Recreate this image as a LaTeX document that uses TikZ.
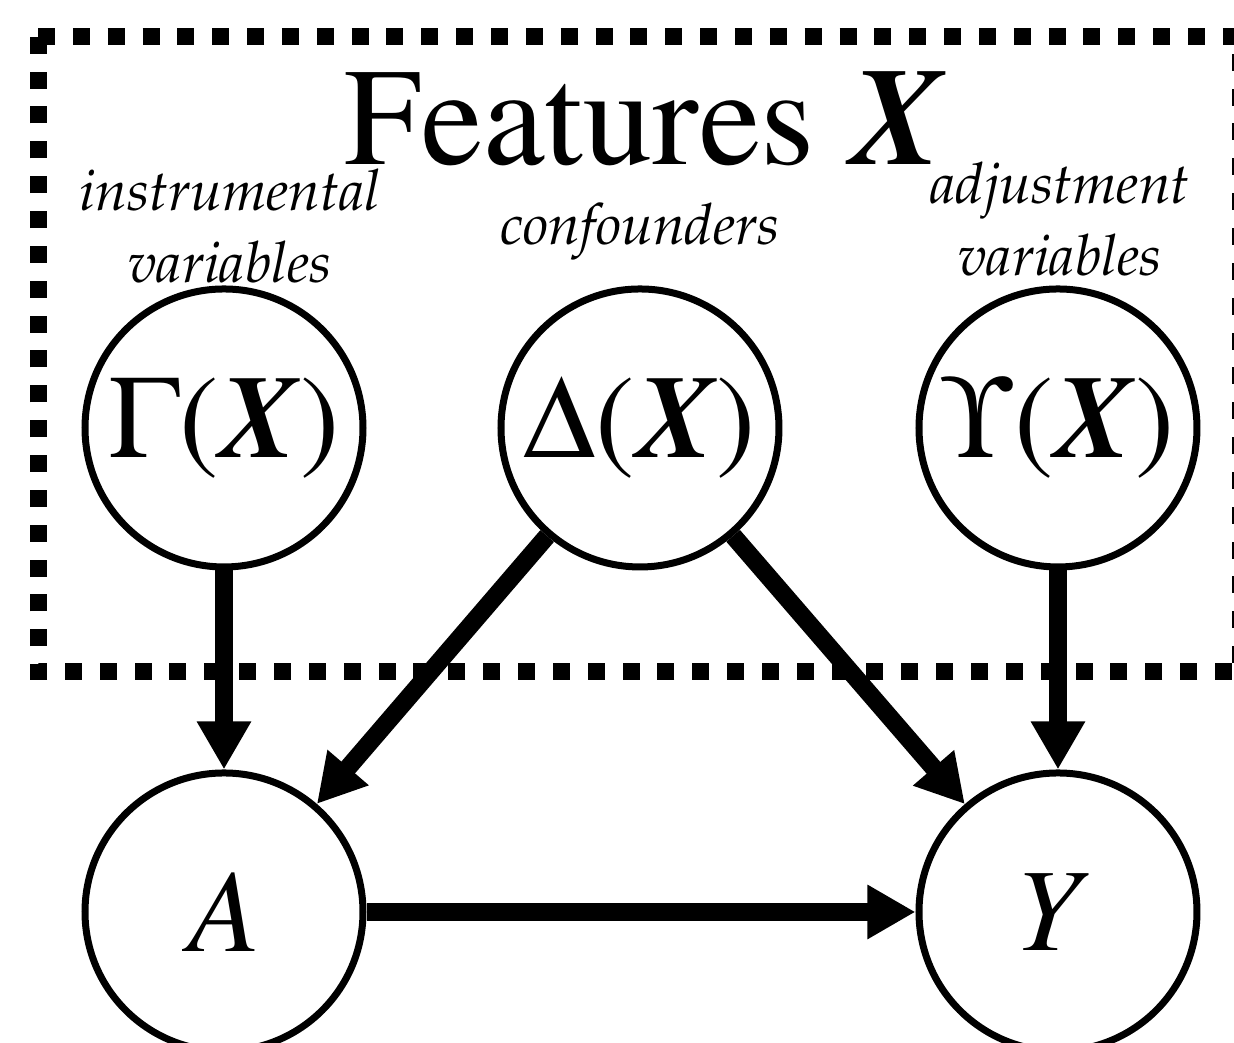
\documentclass[tikz,border=0pt]{standalone}
\usepackage[T1]{fontenc}
\usepackage{mathptmx}
\usetikzlibrary{arrows.meta}
\newcommand{\palit}{\usefont{T1}{ppl}{m}{it}}
\newcommand{\bX}{\textbf{\textit{X}}}

\begin{document}
\begin{tikzpicture}[
  var/.style={circle, draw, line width=0.07cm, minimum size=2.78cm, inner sep=0pt,
    font=\fontsize{33.5}{40}\selectfont},
  edge/.style={line width=0.18cm, -{Triangle[length=0.48cm,width=0.51cm]}},
  lbl/.style={align=center, font=\fontsize{16.2}{20.4}\selectfont\palit}]
\useasboundingbox (0,0) rectangle (12.34,10.43);
% dashed box round the features
\draw [line width=0.17cm, dash pattern=on 0.17cm off 0.1785cm] (0.38,10.06) -- (12.41,10.06) -- (12.41,3.71) -- (0.38,3.71) -- (0.38,10.06);
\node (feat) at (6.45,8.78) [anchor=base, font=\fontsize{39.5}{46}\selectfont] {Features \bX};
\node (instr) at (2.30,8.165) [lbl] {instrumental\\variables};
\node (conf) at (6.40,7.98) [lbl, anchor=base] {confounders};
\node (adj) at (10.60,8.235) [lbl] {adjustment\\variables};
% the variables
\node (gamma) at (2.24,6.15) [var] {$\Gamma$(\bX)};
\node (delta) at (6.40,6.15) [var] {$\Delta$(\bX)};
\node (ups) at (10.58,6.15) [var] {$\Upsilon$(\bX)};
\node (a) at (2.24,1.31) [var] {$A$};
\node (y) at (10.58,1.31) [var] {$Y$};
% arrows
\draw [edge] (gamma) -- (a);
\draw [edge] (delta) -- (a);
\draw [edge] (delta) -- (y);
\draw [edge] (ups) -- (y);
\draw [edge] (a) -- (y);
\end{tikzpicture}
\end{document}
